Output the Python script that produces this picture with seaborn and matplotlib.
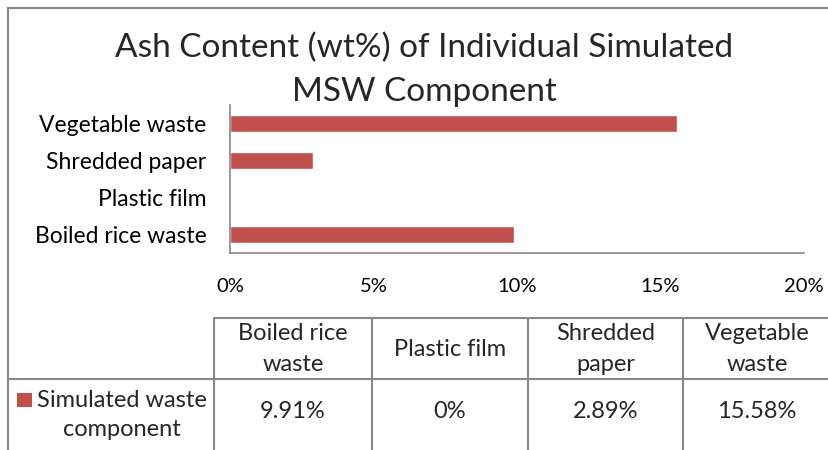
import matplotlib
matplotlib.use("Agg")
import matplotlib.pyplot as plt
import seaborn as sns
import pandas as pd
from matplotlib.patches import Rectangle
from matplotlib.lines import Line2D
from matplotlib.ticker import FuncFormatter

# --- DATA ---
components = ["Boiled rice waste", "Plastic film", "Shredded paper", "Vegetable waste"]
table_headers = ["Boiled rice\nwaste", "Plastic film", "Shredded\npaper", "Vegetable\nwaste"]
ash_pct = [9.91, 0, 2.89, 15.58]
series_name = "Simulated waste\ncomponent"
x_ticks = [0, 5, 10, 15, 20]

BAR_COLOR = "#C0504D"
LINE_COLOR = "#888888"

sns.set_theme(style="white")
plt.rcParams["font.family"] = ["Lato", "DejaVu Sans"]

W, H = 829, 450
fig = plt.figure(figsize=(W / 100, H / 100), dpi=100)


def fx(px):
    return px / W


def fy(py):
    return 1 - py / H


# chart area (bars are listed top to bottom, so reverse the data order)
df = pd.DataFrame({"component": components[::-1], "ash": ash_pct[::-1]})
ax = fig.add_axes([fx(230), fy(253), fx(804) - fx(230), fy(105) - fy(253)])
sns.barplot(data=df, x="ash", y="component", color=BAR_COLOR, width=0.45,
            saturation=1, ax=ax)
ax.set_xlim(0, 20)
ax.set_xticks(x_ticks)
ax.xaxis.set_major_formatter(FuncFormatter(lambda v, p: f"{v:.0f}%"))
ax.set_xlabel("")
ax.set_ylabel("")
ax.tick_params(axis="x", length=0, pad=18, labelsize=14.5, colors="black")
ax.tick_params(axis="y", length=0, pad=17, labelsize=16.5, colors="black")
for side in ["top", "right"]:
    ax.spines[side].set_visible(False)
for side in ["left", "bottom"]:
    ax.spines[side].set_color(LINE_COLOR)
    ax.spines[side].set_linewidth(1.2)

# title
fig.text(fx(424), fy(48), "Ash Content (wt%) of Individual Simulated",
         ha="center", va="center", fontsize=24)
fig.text(fx(424), fy(92), "MSW Component", ha="center", va="center", fontsize=24)

# outer chart border (cropped on the right and bottom like the source)
fig.add_artist(Rectangle((fx(8), fy(470)), fx(850) - fx(8), fy(8) - fy(470),
                         transform=fig.transFigure, fill=False,
                         edgecolor=LINE_COLOR, linewidth=1.5))

# data table
col_edges = [214, 372, 528, 683, 840]
row_top, row_mid = 318, 379
fig.add_artist(Line2D([fx(214), fx(829)], [fy(row_top)] * 2, transform=fig.transFigure,
                      color=LINE_COLOR, linewidth=1.5))
fig.add_artist(Line2D([fx(8), fx(829)], [fy(row_mid)] * 2, transform=fig.transFigure,
                      color=LINE_COLOR, linewidth=1.5))
for xe in col_edges[:-1]:
    fig.add_artist(Line2D([fx(xe)] * 2, [fy(row_top), fy(450)], transform=fig.transFigure,
                          color=LINE_COLOR, linewidth=1.5))

for i, (hdr, val) in enumerate(zip(table_headers, ash_pct)):
    cx = (col_edges[i] + col_edges[i + 1]) / 2
    if i == len(table_headers) - 1:
        cx = 757
    fig.text(fx(cx), fy(349), hdr, ha="center", va="center", fontsize=17,
             linespacing=1.55)
    fig.text(fx(cx), fy(412), f"{val:g}%", ha="center", va="center", fontsize=17)

# legend key + row label
fig.add_artist(Rectangle((fx(17), fy(407)), fx(32) - fx(17), fy(393) - fy(407),
                         transform=fig.transFigure, facecolor=BAR_COLOR, edgecolor="none"))
fig.text(fx(122), fy(415), series_name, ha="center", va="center", fontsize=17,
         linespacing=1.5)

fig.savefig("out.png", dpi=100, facecolor="white")
